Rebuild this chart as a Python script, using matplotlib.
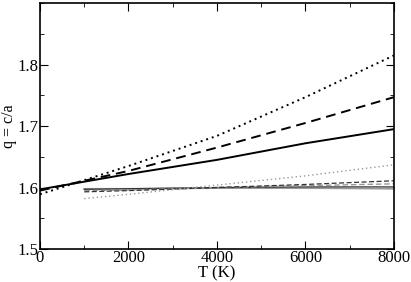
import matplotlib
matplotlib.use("Agg")
import matplotlib.pyplot as plt
from matplotlib.ticker import MultipleLocator

plt.rcParams['font.family'] = ['Liberation Serif', 'DejaVu Serif']

# black curves, from T = 0
t_full = [0, 2000, 4000, 6000, 8000]
q_solid = [1.597, 1.622, 1.645, 1.672, 1.695]
q_dashed = [1.595, 1.627, 1.665, 1.705, 1.747]
q_dotted = [1.589, 1.635, 1.684, 1.747, 1.815]

# gray curves, from T = 1000
t_part = [1000, 2000, 4000, 6000, 8000]
q_thin_solid = [1.597, 1.598, 1.600, 1.601, 1.601]
q_gray_solid = [1.598, 1.598, 1.599, 1.599, 1.598]
q_thin_dashed = [1.593, 1.595, 1.600, 1.605, 1.611]
q_gray_dashed = [1.595, 1.596, 1.600, 1.603, 1.606]
q_gray_dotted = [1.582, 1.589, 1.604, 1.619, 1.637]

fig = plt.figure(figsize=(4.11, 2.82), dpi=100)
ax = fig.add_axes([0.0973, 0.117, 0.8613, 0.872])

ax.plot(t_full, q_solid, color="black", lw=1.4, ls="-")
ax.plot(t_full, q_dashed, color="black", lw=1.4, ls=(0, (5, 3)))
ax.plot(t_full, q_dotted, color="black", lw=1.4, ls=(0, (1, 2)))

ax.plot(t_part, q_gray_solid, color="#999999", lw=1.2, ls="-")
ax.plot(t_part, q_thin_solid, color="#333333", lw=0.9, ls="-")
ax.plot(t_part, q_gray_dashed, color="#999999", lw=1.0, ls=(0, (4, 2)))
ax.plot(t_part, q_thin_dashed, color="#333333", lw=0.9, ls=(0, (4, 2)))
ax.plot(t_part, q_gray_dotted, color="#999999", lw=1.0, ls=(0, (1, 2)))

ax.set_xlim(0, 8000)
ax.set_ylim(1.5, 1.9)
ax.xaxis.set_major_locator(MultipleLocator(2000))
ax.xaxis.set_minor_locator(MultipleLocator(1000))
ax.set_yticks([1.5, 1.6, 1.7, 1.8])
ax.yaxis.set_minor_locator(MultipleLocator(0.05))
ax.tick_params(which="both", direction="in", top=True, right=True, labelsize=12, pad=1)
ax.tick_params(which="major", length=6)
ax.tick_params(which="minor", length=3)
for s in ax.spines.values():
    s.set_linewidth(1.2)

ax.set_xlabel("T (K)", fontsize=12, labelpad=-1)
ax.set_ylabel("q = c/a", fontsize=11.5)
ax.yaxis.set_label_coords(-0.064, 0.5)

fig.savefig("out.png", dpi=100)
